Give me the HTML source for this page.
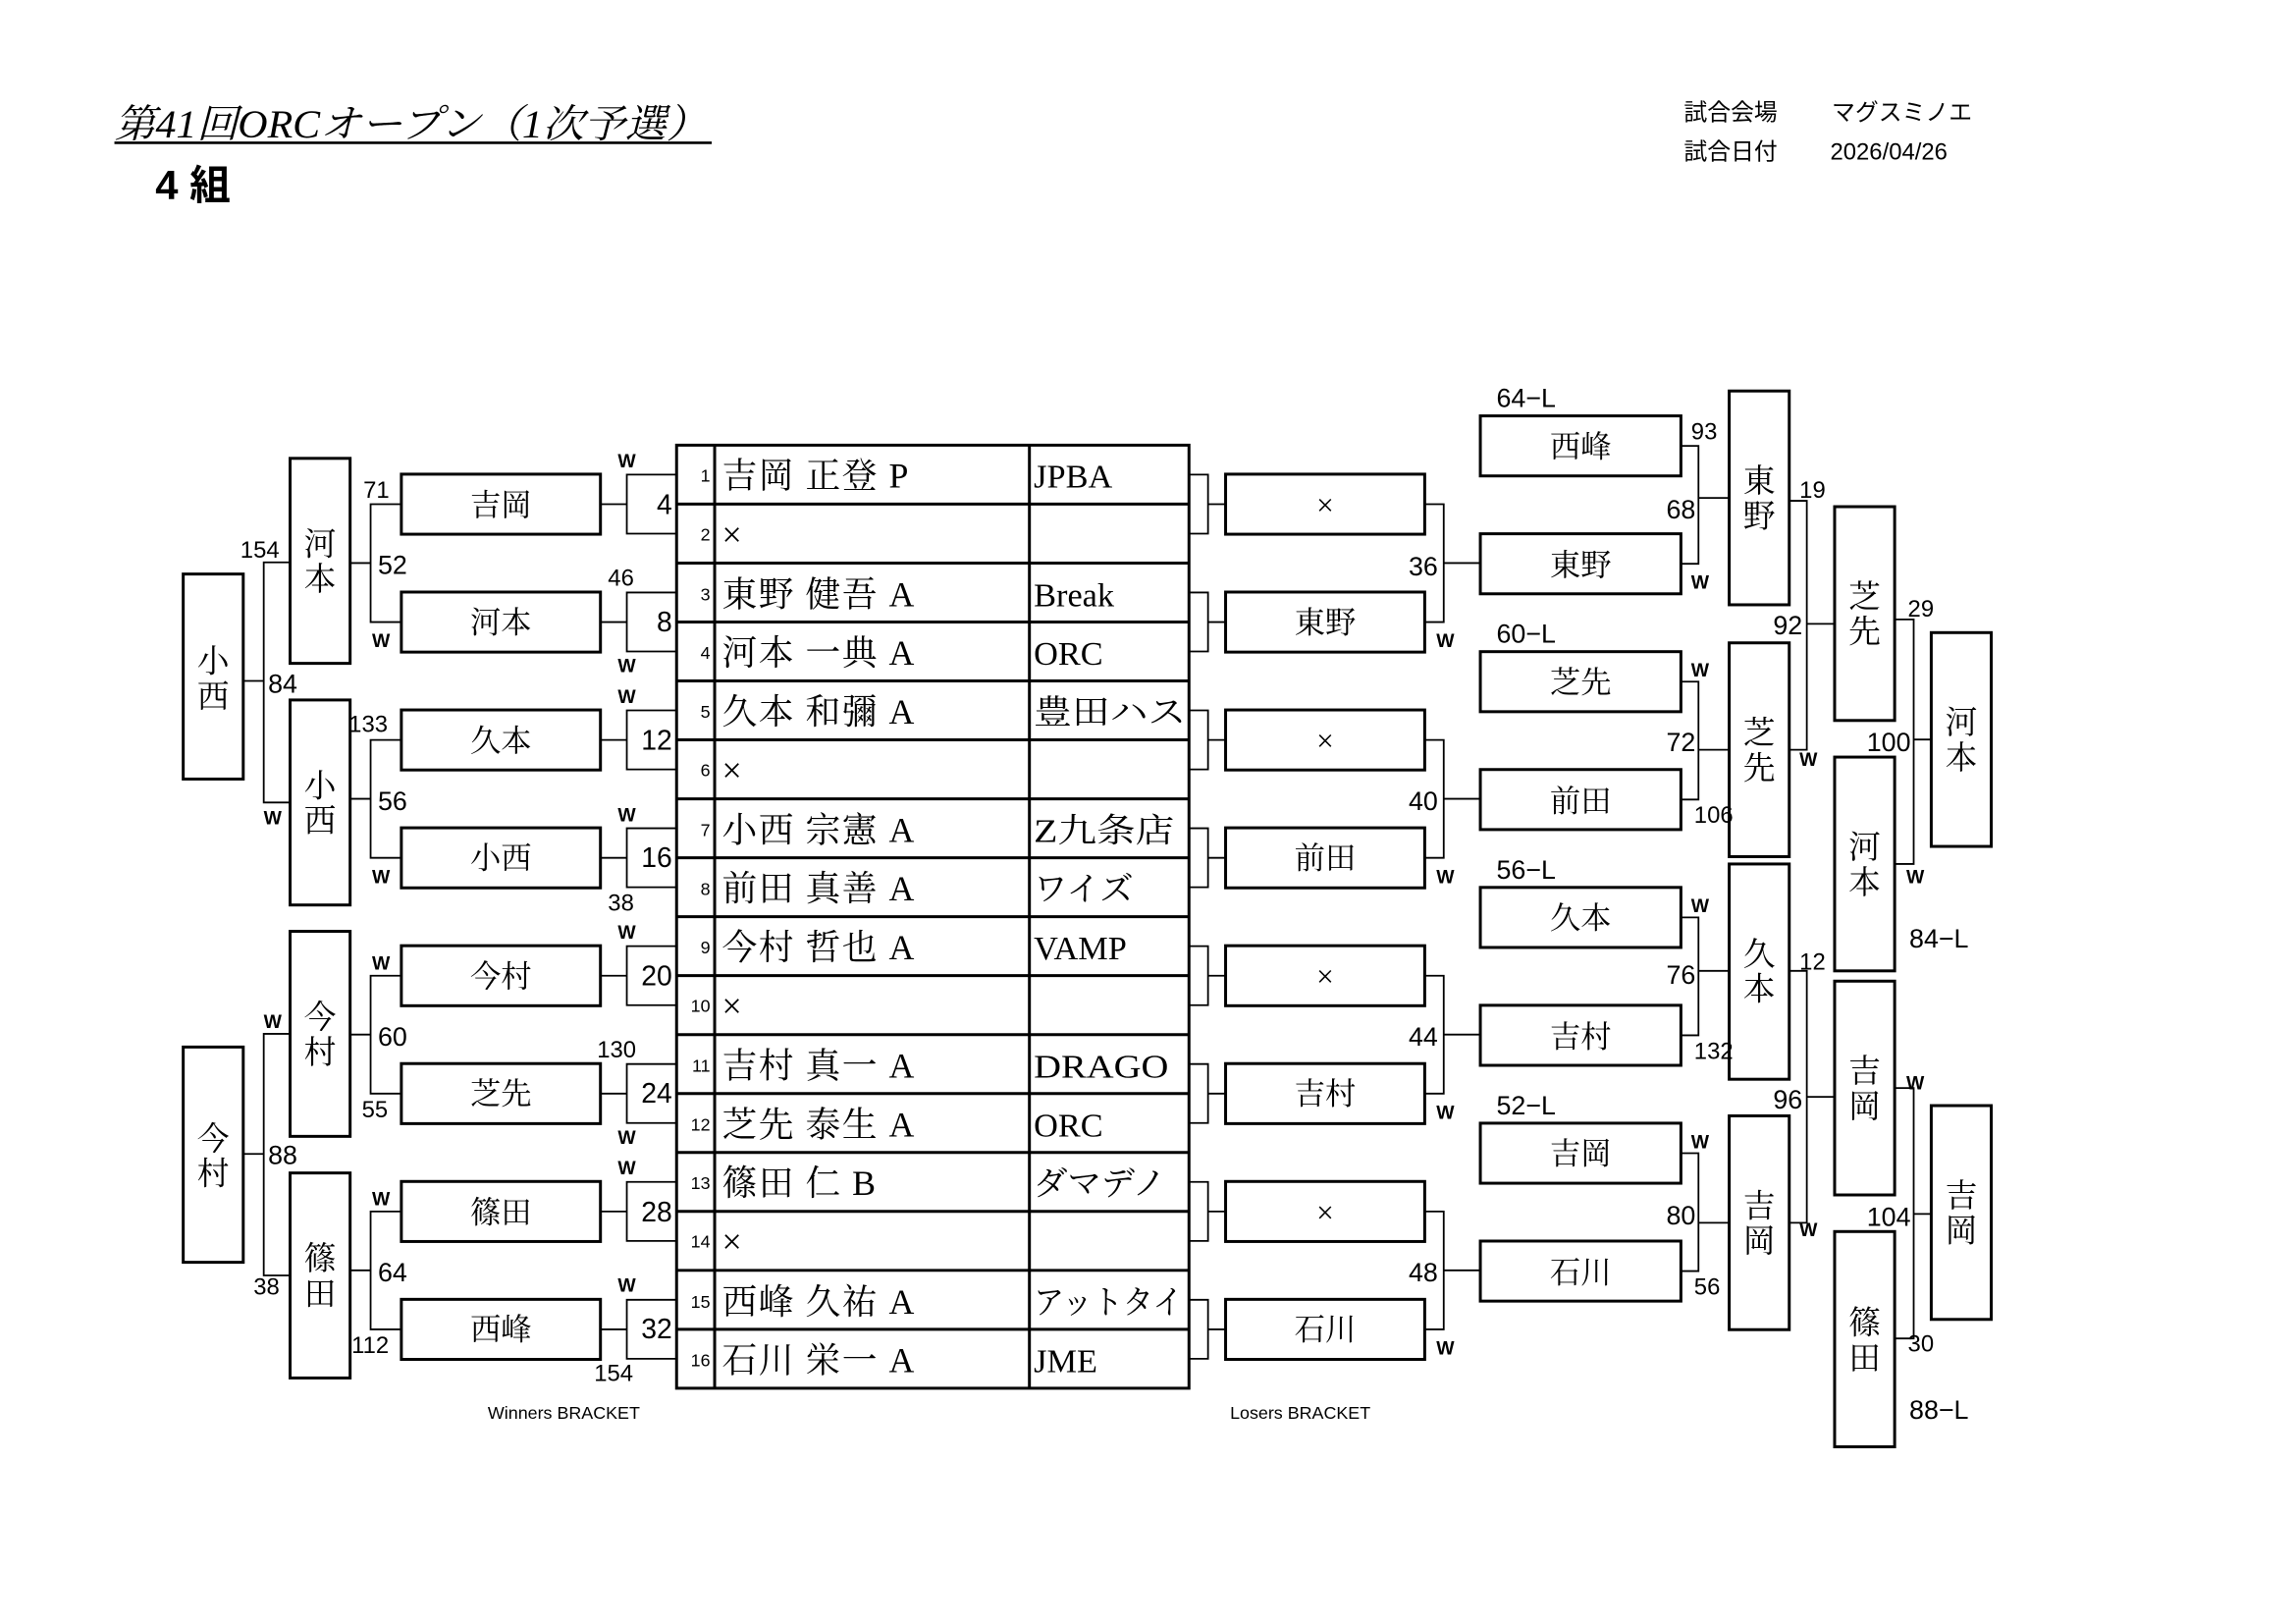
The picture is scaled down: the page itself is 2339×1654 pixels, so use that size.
<!DOCTYPE html>
<html><head><meta charset="utf-8"><style>
html,body{margin:0;padding:0;background:#fff;}
svg{display:block}
.s{font-family:"Liberation Sans","Noto Sans CJK JP",sans-serif}
.m{font-family:"Liberation Serif","Noto Serif CJK SC",serif}
.b{fill:none;stroke:#000;stroke-width:2}
.l{fill:none;stroke:#000;stroke-width:1.2}
.w{font-weight:bold;font-size:13px}
</style></head><body>
<svg width="2339" height="1654" viewBox="0 0 1568 1109" xmlns="http://www.w3.org/2000/svg">
<rect width="1568" height="1109" fill="#fff"/>
<text x="78" y="94" class="m" font-size="27" font-style="italic" textLength="405" lengthAdjust="spacingAndGlyphs">第41回ORCオープン（1次予選）</text>
<line x1="78" y1="97.5" x2="486" y2="97.5" stroke="#000" stroke-width="1.8"/>
<text x="106" y="136" class="s" font-size="28" font-weight="bold">4 組</text>
<g class="s" font-size="16">
<text x="1150" y="82">試合会場</text><text x="1251" y="82">マグスミノエ</text>
<text x="1150" y="109">試合日付</text><text x="1250" y="109">2026/04/26</text>
</g>
<text x="385" y="969" class="s" font-size="12" text-anchor="middle">Winners BRACKET</text>
<text x="888" y="969" class="s" font-size="12" text-anchor="middle">Losers BRACKET</text>

<g class="b">
<rect x="462" y="304" width="350" height="644"/>
<line x1="488" y1="304" x2="488" y2="948"/><line x1="703" y1="304" x2="703" y2="948"/>
<path d="M462 344.25H812M462 384.5H812M462 424.75H812M462 465H812M462 505.25H812M462 545.5H812M462 585.75H812M462 626H812M462 666.25H812M462 706.5H812M462 746.75H812M462 787H812M462 827.25H812M462 867.5H812M462 907.75H812"/>
</g>
<g class="s" font-size="12" text-anchor="end">
<text x="485" y="329">1</text><text x="485" y="369">2</text><text x="485" y="410">3</text><text x="485" y="450">4</text>
<text x="485" y="490">5</text><text x="485" y="530">6</text><text x="485" y="571">7</text><text x="485" y="611">8</text>
<text x="485" y="651">9</text><text x="485" y="691">10</text><text x="485" y="732">11</text><text x="485" y="772">12</text>
<text x="485" y="812">13</text><text x="485" y="852">14</text><text x="485" y="893">15</text><text x="485" y="933">16</text>
</g>
<g class="m" font-size="24" letter-spacing="1">
<text x="493" y="333">吉岡 正登 P</text><text x="493" y="373">×</text>
<text x="493" y="414">東野 健吾 A</text><text x="493" y="454">河本 一典 A</text>
<text x="493" y="494">久本 和彌 A</text><text x="493" y="534">×</text>
<text x="493" y="575">小西 宗憲 A</text><text x="493" y="615">前田 真善 A</text>
<text x="493" y="655">今村 哲也 A</text><text x="493" y="695">×</text>
<text x="493" y="736">吉村 真一 A</text><text x="493" y="776">芝先 泰生 A</text>
<text x="493" y="816">篠田 仁 B</text><text x="493" y="856">×</text>
<text x="493" y="897">西峰 久祐 A</text><text x="493" y="937">石川 栄一 A</text>
</g>
<g class="m" font-size="23">
<text x="706" y="333">JPBA</text>
<text x="706" y="414">Break</text><text x="706" y="454">ORC</text>
<text x="706" y="494" textLength="104" lengthAdjust="spacingAndGlyphs">豊田ハス</text>
<text x="706" y="575" textLength="96" lengthAdjust="spacingAndGlyphs">Z九条店</text><text x="706" y="615">ワイズ</text>
<text x="706" y="655">VAMP</text>
<text x="706" y="736" textLength="92" lengthAdjust="spacingAndGlyphs">DRAGO</text><text x="706" y="776">ORC</text>
<text x="706" y="816">ダマデノ</text>
<text x="706" y="897" textLength="102" lengthAdjust="spacingAndGlyphs">アットタイ</text><text x="706" y="937">JME</text>
</g>

<g class="l">
<path d="M462 324.1H428V364.4H462M410 344.3H428"/>
<path d="M462 404.6H428V444.9H462M410 424.8H428"/>
<path d="M462 485.1H428V525.4H462M410 505.3H428"/>
<path d="M462 565.6H428V605.9H462M410 585.8H428"/>
<path d="M462 646.1H428V686.4H462M410 666.3H428"/>
<path d="M462 726.6H428V766.9H462M410 746.8H428"/>
<path d="M462 807.1H428V847.4H462M410 827.3H428"/>
<path d="M462 887.6H428V927.9H462M410 907.8H428"/>
</g>
<g class="s" font-size="19" text-anchor="end">
<text x="459" y="351">4</text><text x="459" y="431">8</text><text x="459" y="512">12</text><text x="459" y="592">16</text>
<text x="459" y="673">20</text><text x="459" y="753">24</text><text x="459" y="834">28</text><text x="459" y="914">32</text>
</g>
<g class="s" font-size="12" text-anchor="middle">
<text x="428" y="319" class="w">W</text>
<text x="424" y="400" font-size="16">46</text><text x="428" y="459" class="w">W</text>
<text x="428" y="480" class="w">W</text>
<text x="428" y="561" class="w">W</text><text x="424" y="622" font-size="16">38</text>
<text x="428" y="641" class="w">W</text>
<text x="421" y="722" font-size="16">130</text><text x="428" y="781" class="w">W</text>
<text x="428" y="802" class="w">W</text>
<text x="428" y="882" class="w">W</text><text x="419" y="943" font-size="16">154</text>
</g>

<g class="b">
<rect x="274" y="323.8" width="136" height="41"/><rect x="274" y="404.3" width="136" height="41"/>
<rect x="274" y="484.8" width="136" height="41"/><rect x="274" y="565.3" width="136" height="41"/>
<rect x="274" y="645.8" width="136" height="41"/><rect x="274" y="726.3" width="136" height="41"/>
<rect x="274" y="806.8" width="136" height="41"/><rect x="274" y="887.3" width="136" height="41"/>
</g>
<g class="m" font-size="21" text-anchor="middle">
<text x="342" y="352">吉岡</text><text x="342" y="432">河本</text><text x="342" y="513">久本</text><text x="342" y="593">小西</text>
<text x="342" y="674">今村</text><text x="342" y="754">芝先</text><text x="342" y="835">篠田</text><text x="342" y="915">西峰</text>
</g>

<g class="l">
<path d="M274 344.3H253V424.8H274M239 384.5H253"/>
<path d="M274 505.3H253V585.8H274M239 545.5H253"/>
<path d="M274 666.3H253V746.8H274M239 706.5H253"/>
<path d="M274 827.3H253V907.8H274M239 867.5H253"/>
</g>
<g class="s" font-size="18">
<text x="248" y="340" font-size="16">71</text><text x="258" y="392">52</text><text x="254" y="442" class="w">W</text>
<text x="238" y="500" font-size="16">133</text><text x="258" y="553">56</text><text x="254" y="603" class="w">W</text>
<text x="254" y="662" class="w">W</text><text x="258" y="714">60</text><text x="247" y="763" font-size="16">55</text>
<text x="254" y="823" class="w">W</text><text x="258" y="875">64</text><text x="240" y="924" font-size="16">112</text>
</g>
<g class="b">
<rect x="198" y="313" width="41" height="140"/><rect x="198" y="478" width="41" height="140"/>
<rect x="198" y="636" width="41" height="140"/><rect x="198" y="801" width="41" height="140"/>
</g>
<g class="m" font-size="22" text-anchor="middle">
<text x="218.5" y="379">河</text><text x="218.5" y="403">本</text>
<text x="218.5" y="544">小</text><text x="218.5" y="568">西</text>
<text x="218.5" y="702">今</text><text x="218.5" y="726">村</text>
<text x="218.5" y="867">篠</text><text x="218.5" y="891">田</text>
</g>
<g class="l">
<path d="M198 384H180V548H198M166 465H180"/>
<path d="M198 706H180V871H198M166 788H180"/>
</g>
<g class="s" font-size="18">
<text x="164" y="381" font-size="16">154</text><text x="183" y="473">84</text><text x="180" y="563" class="w">W</text>
<text x="180" y="702" class="w">W</text><text x="183" y="795">88</text><text x="173" y="884" font-size="16">38</text>
</g>
<g class="b">
<rect x="125" y="392" width="41" height="140"/><rect x="125" y="715" width="41" height="147"/>
</g>
<g class="m" font-size="22" text-anchor="middle">
<text x="145.5" y="459">小</text><text x="145.5" y="483">西</text>
<text x="145.5" y="785">今</text><text x="145.5" y="809">村</text>
</g>

<g class="l">
<path d="M812 324.1H825V364.4H812M825 344.3H837"/>
<path d="M812 404.6H825V444.9H812M825 424.8H837"/>
<path d="M812 485.1H825V525.4H812M825 505.3H837"/>
<path d="M812 565.6H825V605.9H812M825 585.8H837"/>
<path d="M812 646.1H825V686.4H812M825 666.3H837"/>
<path d="M812 726.6H825V766.9H812M825 746.8H837"/>
<path d="M812 807.1H825V847.4H812M825 827.3H837"/>
<path d="M812 887.6H825V927.9H812M825 907.8H837"/>
</g>
<g class="b">
<rect x="837" y="323.8" width="136" height="41"/><rect x="837" y="404.3" width="136" height="41"/>
<rect x="837" y="484.8" width="136" height="41"/><rect x="837" y="565.3" width="136" height="41"/>
<rect x="837" y="645.8" width="136" height="41"/><rect x="837" y="726.3" width="136" height="41"/>
<rect x="837" y="806.8" width="136" height="41"/><rect x="837" y="887.3" width="136" height="41"/>
</g>
<g class="m" font-size="21" text-anchor="middle">
<text x="905" y="352">×</text><text x="905" y="432">東野</text><text x="905" y="513">×</text><text x="905" y="593">前田</text>
<text x="905" y="674">×</text><text x="905" y="754">吉村</text><text x="905" y="835">×</text><text x="905" y="915">石川</text>
</g>
<g class="l">
<path d="M973 344.3H986V424.8H973M986 384.5H1011"/>
<path d="M973 505.3H986V585.8H973M986 545.5H1011"/>
<path d="M973 666.3H986V746.8H973M986 706.5H1011"/>
<path d="M973 827.3H986V907.8H973M986 867.5H1011"/>
</g>
<g class="s" font-size="18">
<text x="982" y="393" text-anchor="end">36</text><text x="982" y="553" text-anchor="end">40</text>
<text x="982" y="714" text-anchor="end">44</text><text x="982" y="875" text-anchor="end">48</text>
<text x="981" y="442" class="w">W</text><text x="981" y="603" class="w">W</text>
<text x="981" y="764" class="w">W</text><text x="981" y="925" class="w">W</text>
<text x="1022" y="278" font-size="18">64−L</text><text x="1022" y="439" font-size="18">60−L</text>
<text x="1022" y="600" font-size="18">56−L</text><text x="1022" y="761" font-size="18">52−L</text>
</g>
<g class="b">
<rect x="1011" y="284" width="137" height="41"/><rect x="1011" y="364.5" width="137" height="41"/>
<rect x="1011" y="445" width="137" height="41"/><rect x="1011" y="525.5" width="137" height="41"/>
<rect x="1011" y="606" width="137" height="41"/><rect x="1011" y="686.5" width="137" height="41"/>
<rect x="1011" y="767" width="137" height="41"/><rect x="1011" y="847.5" width="137" height="41"/>
</g>
<g class="m" font-size="21" text-anchor="middle">
<text x="1079.5" y="312">西峰</text><text x="1079.5" y="393">東野</text>
<text x="1079.5" y="473">芝先</text><text x="1079.5" y="554">前田</text>
<text x="1079.5" y="634">久本</text><text x="1079.5" y="715">吉村</text>
<text x="1079.5" y="795">吉岡</text><text x="1079.5" y="876">石川</text>
</g>
<g class="l">
<path d="M1148 304.5H1160V385H1148M1160 340H1181"/>
<path d="M1148 465.5H1160V546H1148M1160 512H1181"/>
<path d="M1148 626.5H1160V707H1148M1160 663H1181"/>
<path d="M1148 787.5H1160V868H1148M1160 835H1181"/>
</g>
<g class="s" font-size="18">
<text x="1155" y="300" font-size="16">93</text><text x="1158" y="354" text-anchor="end">68</text><text x="1155" y="402" class="w">W</text>
<text x="1155" y="462" class="w">W</text><text x="1158" y="513" text-anchor="end">72</text><text x="1157" y="562" font-size="16">106</text>
<text x="1155" y="623" class="w">W</text><text x="1158" y="672" text-anchor="end">76</text><text x="1157" y="723" font-size="16">132</text>
<text x="1155" y="784" class="w">W</text><text x="1158" y="836" text-anchor="end">80</text><text x="1157" y="884" font-size="16">56</text>
</g>
<g class="b">
<rect x="1181" y="267" width="41" height="146"/><rect x="1181" y="439" width="41" height="146"/>
<rect x="1181" y="590" width="41" height="147"/><rect x="1181" y="762" width="41" height="146"/>
</g>
<g class="m" font-size="22" text-anchor="middle">
<text x="1201.5" y="336">東</text><text x="1201.5" y="360">野</text>
<text x="1201.5" y="508">芝</text><text x="1201.5" y="532">先</text>
<text x="1201.5" y="659">久</text><text x="1201.5" y="683">本</text>
<text x="1201.5" y="831">吉</text><text x="1201.5" y="855">岡</text>
</g>
<g class="l">
<path d="M1222 342H1234V512H1222M1234 426H1253"/>
<path d="M1222 663H1234V835H1222M1234 749H1253"/>
</g>
<g class="s" font-size="18">
<text x="1229" y="340" font-size="16">19</text><text x="1231" y="433" text-anchor="end">92</text><text x="1229" y="523" class="w">W</text>
<text x="1229" y="662" font-size="16">12</text><text x="1231" y="757" text-anchor="end">96</text><text x="1229" y="844" class="w">W</text>
</g>
<g class="b">
<rect x="1253" y="346" width="41" height="146"/><rect x="1253" y="517" width="41" height="146"/>
<rect x="1253" y="670" width="41" height="146"/><rect x="1253" y="841" width="41" height="147"/>
</g>
<g class="m" font-size="22" text-anchor="middle">
<text x="1273.5" y="415">芝</text><text x="1273.5" y="439">先</text>
<text x="1273.5" y="586">河</text><text x="1273.5" y="610">本</text>
<text x="1273.5" y="739">吉</text><text x="1273.5" y="763">岡</text>
<text x="1273.5" y="911">篠</text><text x="1273.5" y="935">田</text>
</g>
<g class="l">
<path d="M1294 423H1307V590H1294M1307 505H1319"/>
<path d="M1294 743H1307V914H1294M1307 829H1319"/>
</g>
<g class="s" font-size="18">
<text x="1303" y="421" font-size="16">29</text><text x="1305" y="513" text-anchor="end">100</text><text x="1302" y="603" class="w">W</text>
<text x="1304" y="647">84−L</text>
<text x="1302" y="744" class="w">W</text><text x="1305" y="837" text-anchor="end">104</text><text x="1303" y="923" font-size="16">30</text>
<text x="1304" y="969">88−L</text>
</g>
<g class="b">
<rect x="1319" y="432" width="41" height="146"/><rect x="1319" y="755" width="41" height="146"/>
</g>
<g class="m" font-size="22" text-anchor="middle">
<text x="1339.5" y="501">河</text><text x="1339.5" y="525">本</text>
<text x="1339.5" y="824">吉</text><text x="1339.5" y="848">岡</text>
</g>
</svg>
</body></html>
